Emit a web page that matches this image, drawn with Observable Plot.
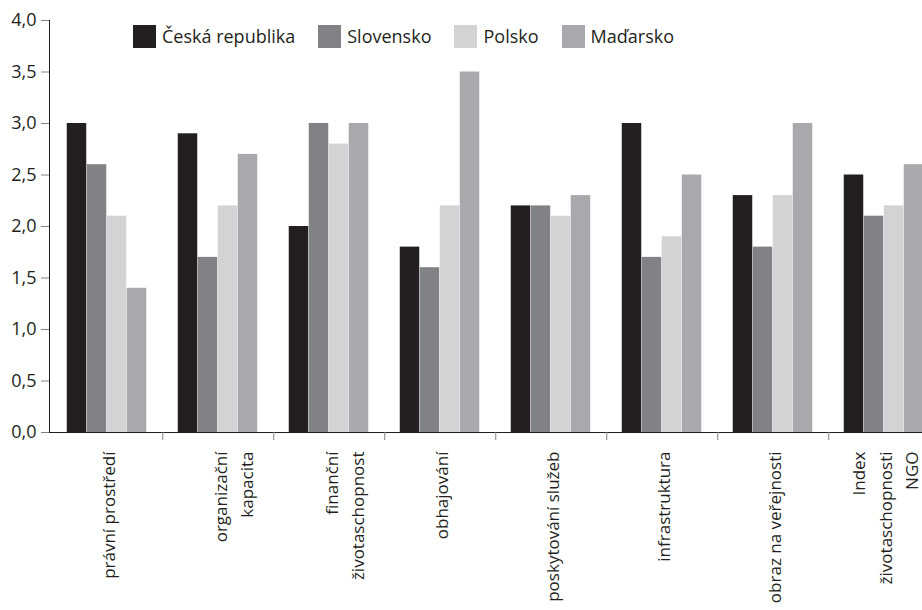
<!DOCTYPE html>
<html>
<head>
<meta charset="utf-8">
<script src="https://cdn.jsdelivr.net/npm/d3@7"></script>
<script src="https://cdn.jsdelivr.net/npm/@observablehq/plot@0.6"></script>
<style>
  html, body { margin: 0; padding: 0; background: #fff; overflow: hidden; }
  #wrap { position: relative; width: 922px; height: 610px; overflow: hidden; font-family: "Open Sans", sans-serif; color: #231f20; }
  #legend { position: absolute; left: 133px; top: 25px; display: flex; align-items: center; font-size: 18px; line-height: 23px; }
  #legend .item { display: flex; align-items: center; margin-right: 23px; }
  #legend .sw { width: 23px; height: 23px; margin-right: 6px; }
  svg { overflow: hidden; }
</style>
</head>
<body>
<div id="wrap"><div id="chart"></div><div id="legend"></div></div>
<script>
const categories = ["právní prostředí", "organizační kapacita", "finanční životaschopnost", "obhajování", "poskytování služeb", "infrastruktura", "obraz na veřejnosti", "Index životaschopnosti NGO"];
const categoryLabels = ["právní prostředí", "organizační\nkapacita", "finanční\nživotaschopnost", "obhajování", "poskytování služeb", "infrastruktura", "obraz na veřejnosti", "Index\nživotaschopnosti\nNGO"];
const series = ["Česká republika", "Slovensko", "Polsko", "Maďarsko"];
const colors = ["#231f20", "#808285", "#d1d3d4", "#a7a9ac"];
const ceskaRepublika = [3.0, 2.9, 2.0, 1.8, 2.2, 3.0, 2.3, 2.5];
const slovensko = [2.6, 1.7, 3.0, 1.6, 2.2, 1.7, 1.8, 2.1];
const polsko = [2.1, 2.2, 2.8, 2.2, 2.1, 1.9, 2.3, 2.2];
const madarsko = [1.4, 2.7, 3.0, 3.5, 2.3, 2.5, 3.0, 2.6];
const yTicks = [0, 0.5, 1, 1.5, 2, 2.5, 3, 3.5, 4];

const seriesValues = [ceskaRepublika, slovensko, polsko, madarsko];
const rows = [];
series.forEach((s, i) => categories.forEach((c, j) => rows.push({series: s, idx: i, category: c, value: seriesValues[i][j]})));
const labelRows = categories.map((c, j) => ({category: c, label: categoryLabels[j], n: categoryLabels[j].split("\n").length}));

const width = 922, height = 610;
const marginLeft = 49, marginTop = 20, marginBottom = 178;
const xRange = [49, 941];
const bw = (xRange[1] - xRange[0]) / categories.length;
const barW = 20;
const outer = (bw - barW * series.length) / 2;
const fmt = d => d.toFixed(1).replace(".", ",");
const fs = 17, lh = 26.6 / 17;

const barMarks = series.map((s, i) => Plot.barY(rows.filter(d => d.series === s), {
  x: "category", y: "value", fill: "series",
  insetLeft: outer + i * barW, insetRight: bw - outer - (i + 1) * barW
}));

const chart = Plot.plot({
  width, height, marginLeft, marginTop, marginBottom, marginRight: 0,
  style: {fontFamily: "'Open Sans', sans-serif", fontSize: "18px", color: "#231f20", background: "#fff"},
  x: {type: "band", domain: categories, range: xRange, padding: 0, axis: null},
  y: {domain: [0, 4], axis: null},
  color: {domain: series, range: colors},
  marks: [
    Plot.ruleY([0], {stroke: "#231f20", strokeWidth: 1}),
    ...barMarks,
    Plot.frame({anchor: "left", stroke: "#231f20"}),
    Plot.axisY({ticks: yTicks, tickFormat: fmt, tickSize: 8, tickPadding: 5, stroke: "#808285", fontSize: 18, label: null}),
    Plot.axisX({tickSize: 8, tickFormat: () => "", dx: bw / 2, stroke: "#808285", label: null}),
    Plot.text(labelRows.filter(d => d.n !== 2), {x: "category", text: "label", frameAnchor: "bottom", dy: 19, dx: -1, rotate: -90, textAnchor: "end", lineAnchor: "middle", lineHeight: lh, fontSize: fs, fill: "#231f20"}),
    Plot.text(labelRows.filter(d => d.n === 2), {x: "category", text: "label", frameAnchor: "bottom", dy: 19, dx: lh * fs / 2, rotate: -90, textAnchor: "end", lineAnchor: "middle", lineHeight: lh, fontSize: fs, fill: "#231f20"})
  ]
});
document.getElementById("chart").appendChild(chart);

const legend = document.getElementById("legend");
series.forEach((s, i) => {
  const item = document.createElement("div");
  item.className = "item";
  const sw = document.createElement("div");
  sw.className = "sw";
  sw.style.background = colors[i];
  const t = document.createElement("span");
  t.textContent = s;
  item.appendChild(sw); item.appendChild(t);
  legend.appendChild(item);
});
</script>
</body>
</html>
